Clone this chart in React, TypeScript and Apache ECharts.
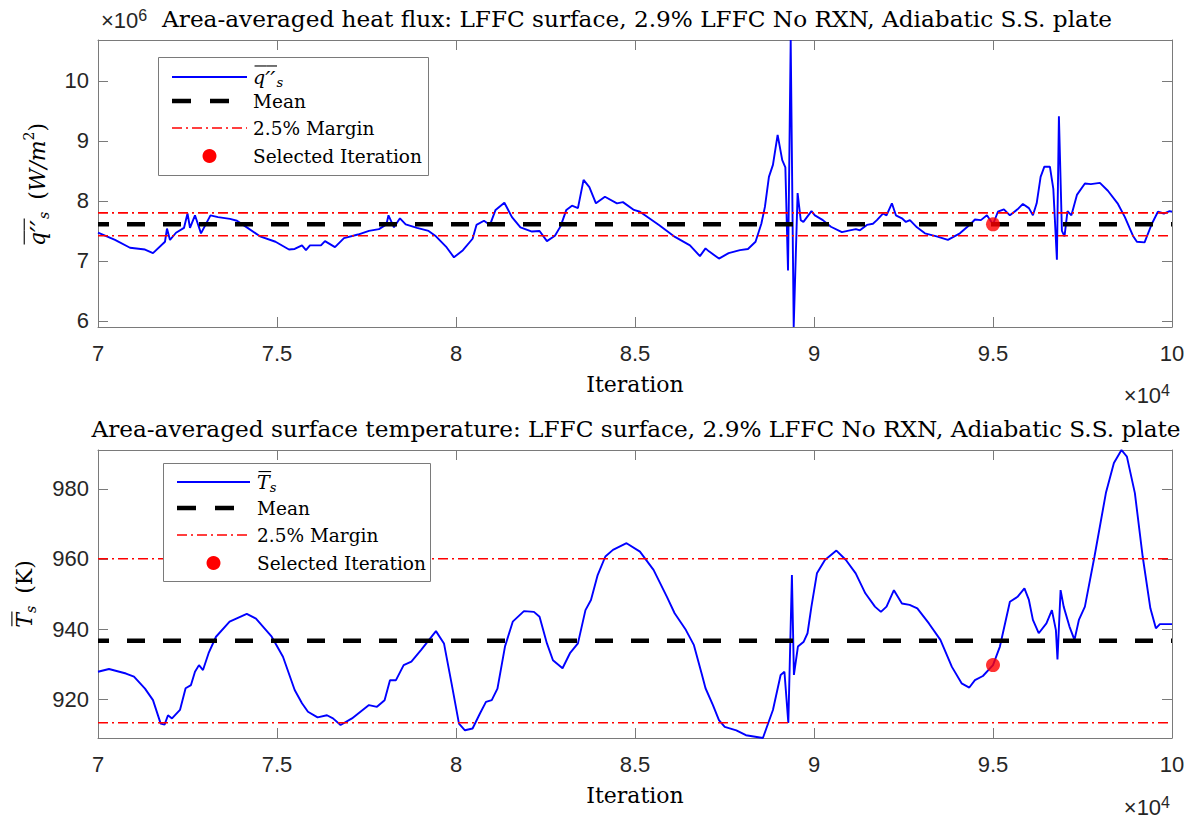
import React, { useEffect, useRef } from "react";
import * as echarts from "echarts";

// ---------------------------------------------------------------------------
// Data
// ---------------------------------------------------------------------------

// Area-averaged heat flux history: iteration number and value in units of 1e6 W/m^2
const fluxIter = [
  70000, 70475, 70894, 71313, 71536, 71871, 71927, 72011, 72179, 72402, 72500, 72570, 72709, 72877,
  73142, 73352, 73687, 73882, 74106, 74525, 74958, 75335, 75494, 75698, 75809, 75921, 76228, 76340,
  76619, 76871, 77262, 77569, 77848, 78058, 78114, 78267, 78435, 78594, 78910, 79234, 79440, 79720,
  79943, 80194, 80463, 80572, 80781, 80949, 81105, 81351, 81563, 81800, 82122, 82334, 82540, 82764,
  82923, 83082, 83239, 83406, 83563, 83725, 83909, 84160, 84496, 84663, 84970, 85138, 85669, 86116,
  86535, 86814, 86970, 87065, 87345, 87616, 87931, 88155, 88367, 88529, 88629, 88741, 88853, 88984,
  89113, 89200, 89274, 89349, 89433, 89542, 89630, 89704, 89930, 90025, 90248, 90472, 90779, 91002,
  91171, 91283, 91478, 91646, 91757, 91925, 92025, 92176, 92288, 92456, 92567, 92679, 92875, 93098,
  93425, 93740, 94076, 94383, 94495, 94662, 94830, 95000, 95137, 95305, 95472, 95685, 95835, 96003,
  96115, 96220, 96330, 96435, 96589, 96685, 96785, 96841, 96925, 96997, 97081, 97190, 97344, 97567,
  97735, 97986, 98209, 98480, 98684, 98908, 99019, 99234, 99438, 99606, 99773, 99932, 100000,
];
const fluxE6 = [
  7.47, 7.35, 7.22, 7.19, 7.13, 7.32, 7.54, 7.35, 7.47, 7.55, 7.79, 7.55, 7.76, 7.46,
  7.76, 7.73, 7.70, 7.67, 7.58, 7.41, 7.32, 7.19, 7.20, 7.26, 7.18, 7.26, 7.26, 7.33,
  7.23, 7.38, 7.44, 7.50, 7.53, 7.61, 7.76, 7.56, 7.71, 7.61, 7.55, 7.50, 7.41, 7.24,
  7.06, 7.18, 7.37, 7.60, 7.67, 7.60, 7.85, 7.97, 7.73, 7.56, 7.49, 7.50, 7.33, 7.42,
  7.58, 7.85, 7.92, 7.88, 8.35, 8.23, 7.96, 8.07, 7.96, 7.98, 7.85, 7.82, 7.60, 7.40,
  7.26, 7.08, 7.21, 7.16, 7.04, 7.13, 7.18, 7.20, 7.32, 7.62, 7.90, 8.40, 8.60, 9.10,
  8.68, 8.56, 6.84, 10.68, 5.90, 8.13, 7.68, 7.65, 7.83, 7.76, 7.68, 7.57, 7.48, 7.51,
  7.53, 7.51, 7.60, 7.62, 7.68, 7.79, 7.76, 7.96, 7.76, 7.71, 7.65, 7.68, 7.56, 7.46,
  7.41, 7.35, 7.46, 7.62, 7.69, 7.68, 7.76, 7.61, 7.82, 7.86, 7.76, 7.86, 7.95, 7.88,
  7.76, 7.96, 8.40, 8.57, 8.57, 8.20, 7.02, 9.41, 7.50, 7.41, 7.83, 7.76, 8.10, 8.29,
  8.28, 8.30, 8.17, 7.96, 7.73, 7.42, 7.32, 7.31, 7.62, 7.82, 7.79, 7.83, 7.82,
];

// Area-averaged surface temperature history (K)
const tempIter = [
  70000, 70307, 70782, 71005, 71313, 71536, 71751, 71860, 71955, 72067, 72290, 72447, 72597, 72709,
  72821, 72933, 73089, 73296, 73676, 74156, 74413, 74852, 75167, 75494, 75698, 75865, 76133, 76396,
  76564, 76776, 77094, 77569, 77792, 78005, 78156, 78323, 78538, 78753, 79021, 79440, 79664, 79876,
  80083, 80250, 80463, 80669, 80837, 80999, 81158, 81368, 81585, 81898, 82177, 82334, 82540, 82708,
  82976, 83183, 83406, 83616, 83770, 83957, 84172, 84384, 84764, 85138, 85518, 85892, 86107, 86423,
  86646, 86861, 86970, 87177, 87345, 87506, 87830, 88099, 88573, 88853, 89068, 89174, 89283, 89383,
  89439, 89551, 89713, 89819, 89928, 90082, 90305, 90626, 90892, 91165, 91434, 91702, 91869, 92026,
  92232, 92456, 92671, 92886, 93210, 93531, 93852, 94123, 94338, 94495, 94718, 95000, 95193, 95472,
  95685, 95878, 96003, 96115, 96277, 96492, 96645, 96757, 96801, 96888, 96974, 97136, 97276, 97399,
  97567, 97835, 98153, 98377, 98589, 98740, 98963, 99181, 99396, 99550, 99661, 99829, 100000,
];
const tempK = [
  927.8, 928.6, 927.3, 926.4, 923.0, 919.7, 913.0, 912.7, 915.4, 914.5, 916.9, 923.1, 924.0, 927.8,
  929.7, 928.3, 933.1, 937.8, 942.1, 944.3, 943.0, 937.8, 932.1, 922.6, 918.8, 916.4, 914.8, 915.4,
  914.5, 912.6, 914.5, 918.3, 917.8, 919.7, 925.4, 925.4, 929.7, 930.7, 934.0, 939.4, 935.9, 924.5,
  913.0, 911.1, 911.6, 915.9, 919.2, 919.7, 923.0, 935.0, 942.1, 945.1, 944.9, 943.5, 935.9, 931.1,
  928.8, 933.1, 935.9, 945.4, 948.3, 955.4, 960.7, 962.6, 964.5, 962.1, 956.9, 949.2, 944.5, 939.7,
  935.4, 927.3, 923.1, 918.3, 914.0, 912.1, 911.1, 909.7, 908.9, 916.9, 926.9, 927.8, 913.2, 955.4,
  926.9, 935.0, 936.4, 938.8, 946.4, 955.9, 959.7, 962.4, 959.7, 955.9, 950.2, 946.4, 944.9, 946.4,
  951.1, 947.3, 946.9, 945.9, 941.6, 936.9, 929.2, 924.5, 923.3, 925.4, 926.6, 929.7, 935.0, 947.8,
  949.2, 951.6, 948.3, 942.6, 938.8, 941.6, 945.4, 939.7, 931.3, 951.1, 946.4, 940.7, 936.9, 942.6,
  946.4, 960.7, 978.8, 987.4, 991.1, 989.2, 978.8, 960.7, 945.9, 940.2, 941.4, 941.4, 941.4,
];

// Time-averaged levels, tolerance band and the chosen iteration
const fluxMeanE6 = 7.61;
const tempMean = 936.65;
const marginPct = 2.5;
const selectedIter = 95000;

// Axis ranges
const iterRange = [70000, 100000];
const iterStep = 5000;
const fluxRangeE6 = [5.9, 10.68];
const tempRange = [908.9, 991.1];

const titles = [
  "Area-averaged heat flux: LFFC surface, 2.9% LFFC No RXN, Adiabatic S.S. plate",
  "Area-averaged surface temperature: LFFC surface, 2.9% LFFC No RXN, Adiabatic S.S. plate",
];
const legendLabels = ["Mean", `${marginPct}% Margin`, "Selected Iteration"];

// ---------------------------------------------------------------------------
// Styling
// ---------------------------------------------------------------------------

const SERIF = '"DejaVu Serif", serif';
const SANS = '"Liberation Sans", Arial, sans-serif';
const FRAME = "#7a7a7a";
const TICK_TEXT = "#262626";
const BLUE = "#0000ff";
const RED = "#ff0000";
const MEAN_DASH = [18, 18];
const MARGIN_DASH = [10, 4, 2, 4];
const TICK_FONT = 22;
const TITLE_FONT = 23.2;
const LEGEND_FONT = 18.5;

let measureCtx: CanvasRenderingContext2D | null = null;
function textWidth(t: string, size: number, italic = false, family = "DejaVu Serif") {
  if (!measureCtx) measureCtx = document.createElement("canvas").getContext("2d");
  if (!measureCtx) return t.length * size * 0.55;
  measureCtx.font = `${italic ? "italic " : ""}${size}px "${family}"`;
  return measureCtx.measureText(t).width;
}

type Piece = {
  t: string;
  size: number;
  italic?: boolean;
  dy?: number;
  over?: number; // height of an overline above the run's centre line
  pad?: number;
};

// Lays out a run of text pieces (sub/superscripts, overlines) along one line.
function mathRun(pieces: Piece[], align: "left" | "center", z: number) {
  const widths = pieces.map((p) => textWidth(p.t, p.size, p.italic));
  const total = widths.reduce((a, w, i) => a + w + (pieces[i].pad || 0), 0);
  let x = align === "center" ? -total / 2 : 0;
  const els: any[] = [];
  pieces.forEach((p, i) => {
    x += p.pad || 0;
    els.push({
      type: "text",
      x,
      y: p.dy || 0,
      z,
      style: {
        text: p.t,
        fontSize: p.size,
        fontFamily: SERIF,
        fontStyle: p.italic ? "italic" : "normal",
        fill: "#000",
        align: "left",
        verticalAlign: "middle",
      },
    });
    if (p.over) {
      els.push({
        type: "line",
        z,
        shape: { x1: x + 1.5, y1: -p.over, x2: x + widths[i] + 1.5, y2: -p.over },
        style: { stroke: "#000", lineWidth: 1.1 },
      });
    }
    x += widths[i];
  });
  return els;
}

// q'' (tall primes) under one overline, then subscript s
const fluxSymbol = (size: number, sub: number): Piece[] => [
  { t: "q", size, italic: true, over: size * 0.58 },
  { t: "\u2032\u2032", size: size * 1.2, italic: true, dy: size * 0.12, over: size * 0.58 },
  { t: "s", size: sub, italic: true, dy: size * 0.3, pad: 1 },
];
const tempSymbol = (size: number, sub: number): Piece[] => [
  { t: "T", size, italic: true, over: size * 0.55 },
  { t: "s", size: sub, italic: true, dy: size * 0.3 },
];

function legendBlock(
  box: { x: number; y: number; w: number; h: number },
  rows: number[],
  lineX: [number, number],
  textX: number,
  symbol: Piece[],
  z: number
) {
  const [l0, l1] = lineX;
  const mid = (l0 + l1) / 2;
  const els: any[] = [
    {
      type: "rect",
      z,
      shape: { x: box.x + 0.5, y: box.y + 0.5, width: box.w, height: box.h },
      style: { fill: "#fff", stroke: FRAME, lineWidth: 1 },
    },
    { type: "line", z, shape: { x1: l0, y1: rows[0], x2: l1, y2: rows[0] }, style: { stroke: BLUE, lineWidth: 1.8 } },
    {
      type: "line",
      z,
      shape: { x1: l0, y1: rows[1], x2: l0 + 57, y2: rows[1] },
      style: { stroke: "#000", lineWidth: 4.5, lineDash: [19, 19] },
    },
    {
      type: "line",
      z,
      shape: { x1: l0, y1: rows[2], x2: l1, y2: rows[2] },
      style: { stroke: RED, lineWidth: 1.6, lineDash: MARGIN_DASH },
    },
    { type: "circle", z, shape: { cx: mid, cy: rows[3], r: 7 }, style: { fill: RED } },
    { type: "group", x: textX, y: rows[0], children: mathRun(symbol, "left", z) },
  ];
  legendLabels.forEach((lab, i) => {
    els.push({
      type: "text",
      z,
      x: textX,
      y: rows[i + 1],
      style: {
        text: lab,
        fontSize: LEGEND_FONT,
        fontFamily: SERIF,
        fill: "#000",
        align: "left",
        verticalAlign: "middle",
      },
    });
  });
  return els;
}

function exponentLabel(base: string, exp: string, x: number, y: number, anchor: "left" | "right", z: number) {
  const wb = textWidth(base, 22, false, "Liberation Sans");
  const we = textWidth(exp, 16, false, "Liberation Sans");
  const x0 = anchor === "left" ? x : x - wb - we;
  return [
    {
      type: "text",
      z,
      x: x0,
      y,
      style: { text: base, fontSize: 22, fontFamily: SANS, fill: TICK_TEXT, align: "left", verticalAlign: "middle" },
    },
    {
      type: "text",
      z,
      x: x0 + wb,
      y: y - 5,
      style: { text: exp, fontSize: 16, fontFamily: SANS, fill: TICK_TEXT, align: "left", verticalAlign: "middle" },
    },
  ];
}

const fmtNum = (v: number) => String(Math.round(v * 100) / 100);

function xAxes(gridIndex: number) {
  const common = {
    gridIndex,
    type: "value",
    min: iterRange[0],
    max: iterRange[1],
    interval: iterStep,
    splitLine: { show: false },
    axisLine: { show: true, onZero: false, lineStyle: { color: FRAME, width: 1 } },
    axisTick: { show: true, inside: true, length: 10, lineStyle: { color: FRAME, width: 1 } },
  };
  return [
    {
      ...common,
      position: "bottom",
      axisLabel: {
        formatter: (v: number) => fmtNum(v / 1e4),
        color: TICK_TEXT,
        fontFamily: SANS,
        fontSize: TICK_FONT,
        margin: 15,
      },
      name: "Iteration",
      nameLocation: "middle",
      nameGap: 46,
      nameTextStyle: { fontFamily: SERIF, fontSize: 22, color: "#000" },
    },
    { ...common, position: "top", axisLabel: { show: false } },
  ];
}

function yAxes(gridIndex: number, range: number[], fmt: (v: number) => string) {
  const common = {
    gridIndex,
    type: "value",
    min: range[0],
    max: range[1],
    splitNumber: 5,
    splitLine: { show: false },
    axisLine: { show: true, onZero: false, lineStyle: { color: FRAME, width: 1 } },
    axisTick: { show: true, inside: true, length: 10, lineStyle: { color: FRAME, width: 1 } },
  };
  return [
    {
      ...common,
      position: "left",
      axisLabel: {
        formatter: fmt,
        showMinLabel: false,
        showMaxLabel: false,
        color: TICK_TEXT,
        fontFamily: SANS,
        fontSize: TICK_FONT,
        margin: 9,
      },
    },
    { ...common, position: "right", axisLabel: { show: false } },
  ];
}

function seriesFor(axisIndex: number, name: string, iters: number[], values: number[], mean: number) {
  const hi = mean * (1 + marginPct / 100);
  const lo = mean * (1 - marginPct / 100);
  const selValue = values[iters.indexOf(selectedIter)];
  const ref = { xAxisIndex: axisIndex, yAxisIndex: axisIndex };
  return [
    {
      ...ref,
      type: "line",
      name,
      data: iters.map((it, i) => [it, values[i]]),
      symbol: "none",
      lineStyle: { color: BLUE, width: 1.9 },
      z: 2,
    },
    {
      ...ref,
      type: "line",
      name: "Mean",
      data: [
        [iterRange[0], mean],
        [iterRange[1], mean],
      ],
      symbol: "none",
      lineStyle: { color: "#000", width: 4.5, type: MEAN_DASH, dashOffset: 7 },
      z: 3,
    },
    ...[hi, lo].map((lvl) => ({
      ...ref,
      type: "line",
      name: `${marginPct}% Margin`,
      data: [
        [iterRange[0], lvl],
        [iterRange[1], lvl],
      ],
      symbol: "none",
      lineStyle: { color: RED, width: 1.6, type: MARGIN_DASH },
      z: 4,
    })),
    {
      ...ref,
      type: "scatter",
      name: "Selected Iteration",
      data: [[selectedIter, selValue]],
      symbolSize: 14,
      itemStyle: { color: RED },
      z: 5,
    },
  ];
}

export default function App() {
  const ref = useRef<HTMLDivElement>(null);

  useEffect(() => {
    if (!ref.current) return;
    const chart = echarts.init(ref.current, undefined, { renderer: "svg" });
    const Z = 50;

    const fluxVals = fluxE6.map((v) => v * 1e6);

    const graphic: any[] = [
      // y-axis titles, rotated to read bottom-to-top
      {
        type: "group",
        x: 37,
        y: 184.5,
        rotation: Math.PI / 2,
        children: mathRun(
          [
            ...fluxSymbol(22, 14),
            { t: "(", size: 22, pad: 12 },
            { t: "W/m", size: 22, italic: true },
            { t: "2", size: 14, dy: -8 },
            { t: ")", size: 22 },
          ],
          "center",
          Z
        ),
      },
      {
        type: "group",
        x: 24,
        y: 594,
        rotation: Math.PI / 2,
        children: mathRun([...tempSymbol(22, 14), { t: "(K)", size: 22, pad: 12 }], "center", Z),
      },
      ...exponentLabel("\u00d710", "6", 101, 20, "left", Z),
      ...exponentLabel("\u00d710", "4", 1170, 395, "right", Z),
      ...exponentLabel("\u00d710", "4", 1170, 807, "right", Z),
      ...legendBlock({ x: 158, y: 57, w: 270, h: 118 }, [77, 101, 128, 156], [172, 247], 253, fluxSymbol(19, 13), Z),
      ...legendBlock({ x: 163, y: 463, w: 267, h: 118 }, [482, 508, 535, 563], [177, 250], 257, tempSymbol(19, 13), Z),
    ];

    const titleStyle = { fontFamily: SERIF, fontSize: TITLE_FONT, fontWeight: "normal", color: "#000" };
    const option: any = {
      animation: false,
      backgroundColor: "#ffffff",
      title: [
        { text: titles[0], left: 637, top: 7, textAlign: "center", padding: 0, textStyle: titleStyle },
        { text: titles[1], left: 636, top: 417, textAlign: "center", padding: 0, textStyle: titleStyle },
      ],
      grid: [
        { left: 98, right: 22, top: 40, height: 287 },
        { left: 98, right: 22, top: 450, height: 288 },
      ],
      xAxis: [...xAxes(0), ...xAxes(1)],
      yAxis: [
        ...yAxes(0, fluxRangeE6.map((v) => v * 1e6), (v: number) => fmtNum(v / 1e6)),
        ...yAxes(1, tempRange, (v: number) => fmtNum(v)),
      ],
      series: [
        ...seriesFor(0, "q\u2032\u2032s", fluxIter, fluxVals, fluxMeanE6 * 1e6),
        ...seriesFor(2, "Ts", tempIter, tempK, tempMean),
      ],
      graphic,
    };

    chart.setOption(option);
    return () => chart.dispose();
  }, []);

  return (
    <div
      ref={ref}
      style={{ position: "fixed", left: 0, top: 0, width: 1194, height: 821, background: "#fff" }}
    />
  );
}
